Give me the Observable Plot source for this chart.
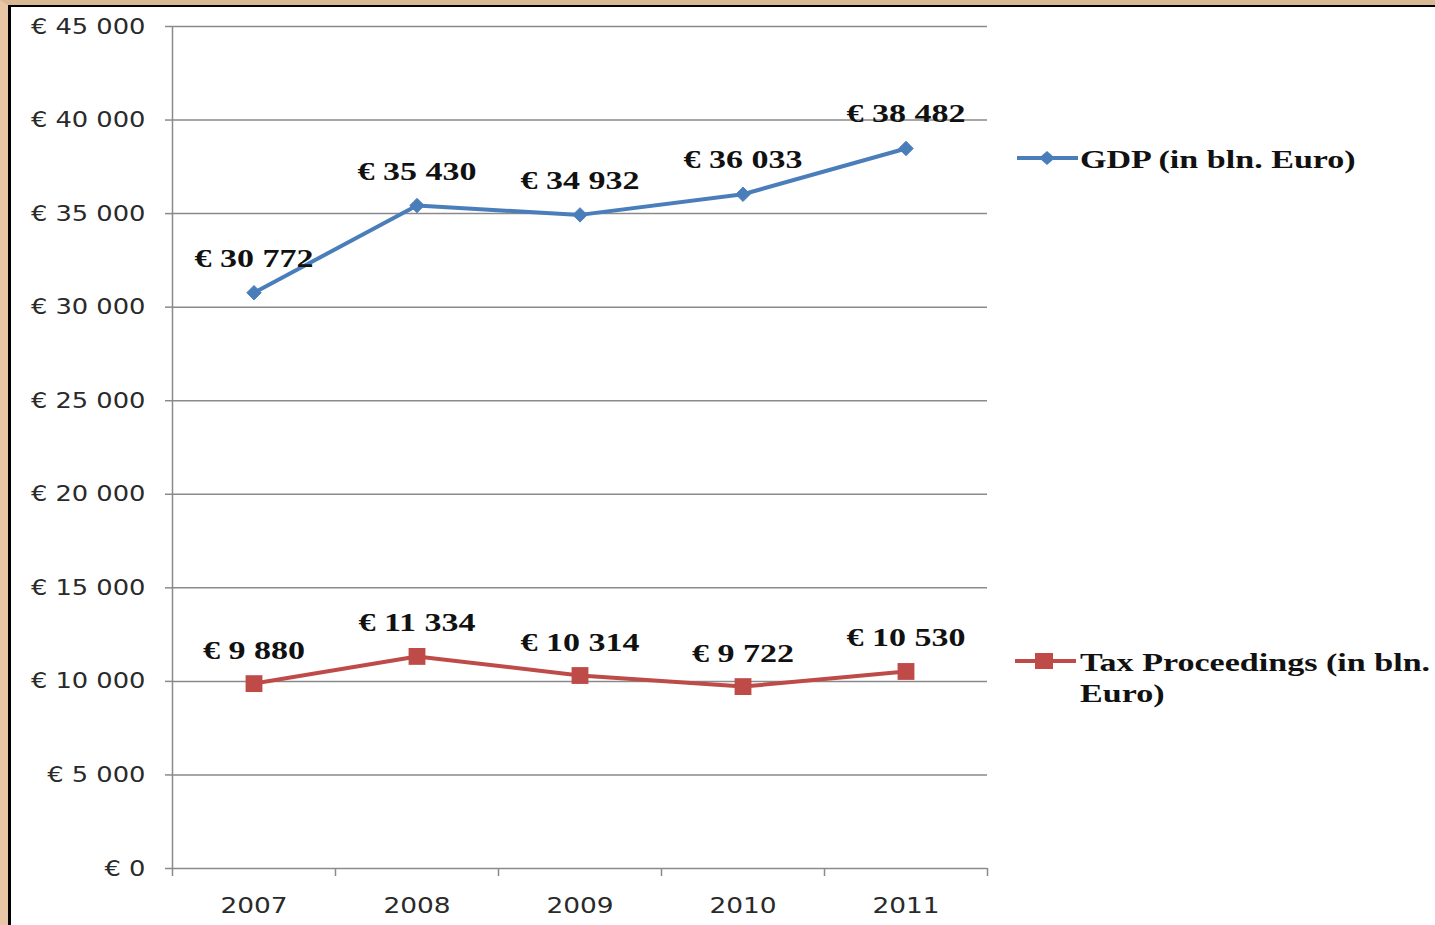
<!DOCTYPE html>
<html><head><meta charset="utf-8">
<script src="https://cdn.jsdelivr.net/npm/d3@7"></script>
<script src="https://cdn.jsdelivr.net/npm/@observablehq/plot@0.6"></script>
<style>
html,body{margin:0;padding:0;background:#fff;width:1435px;height:925px;overflow:hidden;position:relative}
#frameTan{position:absolute;left:0;top:0;width:1435px;height:925px;box-sizing:border-box;border-left:8px solid #e8c6a6;border-top:5px solid #d9b994;}
#frameBlack{position:absolute;left:8px;top:5px;width:1427px;height:920px;box-sizing:border-box;border-left:3px solid #000;border-top:2px solid #000;}
#chart{position:absolute;left:0;top:0}
.sw{position:absolute;}
.lt{position:absolute;font-family:"Liberation Serif",serif;font-weight:bold;font-size:26px;line-height:31px;color:#111;white-space:nowrap;transform:scaleX(1.31);transform-origin:0 0;}
</style></head>
<body>
<div id="frameTan"></div>
<div id="frameBlack"></div>
<div id="chart"></div>
<script>
const years = [2007, 2008, 2009, 2010, 2011];
const gdp = [30772, 35430, 34932, 36033, 38482];
const tax = [9880, 11334, 10314, 9722, 10530];
const seriesNames = ["GDP (in bln. Euro)", "Tax Proceedings (in bln. Euro)"];
const seriesColors = ["#4a7ebb", "#be4b48"];
const yTicks = [0, 5000, 10000, 15000, 20000, 25000, 30000, 35000, 40000, 45000];

const euro = v => "€ " + d3.format(",")(v).replace(/,/g, " ");
const gdpData = years.map((y, i) => ({year: y, value: gdp[i]}));
const taxData = years.map((y, i) => ({year: y, value: tax[i]}));
const bounds = years.map(y => y - 0.5).concat([years[years.length - 1] + 0.5]);

const grid = "#8a8a8a";
const chart = Plot.plot({
  width: 1435, height: 925,
  marginLeft: 172, marginRight: 448, marginTop: 26, marginBottom: 57,
  style: {background: "transparent", overflow: "visible"},
  x: {domain: [bounds[0], bounds[bounds.length - 1]], axis: null},
  y: {domain: [0, 45000], axis: null},
  marks: [
    Plot.gridY(yTicks, {stroke: grid, strokeOpacity: 1, strokeWidth: 1.5}),
    Plot.ruleX([bounds[0]], {y1: 0, y2: 45000, stroke: grid, strokeWidth: 1.5}),
    Plot.axisY(yTicks, {tickSize: 7, tickPadding: 20, stroke: grid, strokeWidth: 1.5, tickFormat: euro, label: null,
      fontFamily: "DejaVu Sans", fontSize: 22, fill: "#2a2a2a"}),
    Plot.axisX(bounds, {tickSize: 8, tickFormat: () => "", stroke: grid, strokeWidth: 1.5, label: null}),
    Plot.axisX(years, {tickSize: 0, tickPadding: 29, tickFormat: d => String(d), label: null,
      fontFamily: "DejaVu Sans", fontSize: 22, fill: "#2a2a2a"}),
    Plot.line(gdpData, {x: "year", y: "value", stroke: seriesColors[0], strokeWidth: 4}),
    Plot.dot(gdpData, {x: "year", y: "value", symbol: "diamond2", r: 6.5, fill: seriesColors[0], stroke: seriesColors[0], strokeWidth: 1}),
    Plot.line(taxData, {x: "year", y: "value", stroke: seriesColors[1], strokeWidth: 4}),
    Plot.dot(taxData, {x: "year", y: "value", symbol: "square", r: 9.5, fill: seriesColors[1], stroke: "none"}),
    Plot.text(gdpData, {x: "year", y: "value", text: d => euro(d.value), dy: -34, fontFamily: "Liberation Serif", fontWeight: "bold", fontSize: 25, fill: "#111"}),
    Plot.text(taxData, {x: "year", y: "value", text: d => euro(d.value), dy: -33, fontFamily: "Liberation Serif", fontWeight: "bold", fontSize: 25, fill: "#111"})
  ]
});
document.getElementById("chart").appendChild(chart);

// horizontally stretch texts around their anchor point (the reference is stretched)
const svgNS = "http://www.w3.org/2000/svg";
Array.from(chart.querySelectorAll("text")).forEach(t => {
  const ff = (t.closest("[font-family]") || t).getAttribute("font-family") || "";
  if (!t.textContent) return;
  let k = 1;
  if (ff.includes("Serif")) k = 1.36;
  else if (ff.includes("DejaVu")) k = t.textContent.startsWith("€") ? 1.17 : 1.2;
  if (k === 1) return;
  let ax = 0, ay = 0;
  const tr = t.getAttribute("transform") || "";
  const m = tr.match(/translate\(\s*([-\d.e]+)[ ,]+([-\d.e]+)\s*\)/);
  if (m) { ax = +m[1]; ay = +m[2]; }
  else { ax = parseFloat(t.getAttribute("x")) || 0; ay = parseFloat(t.getAttribute("y")) || 0; }
  const g = document.createElementNS(svgNS, "g");
  g.setAttribute("transform", `translate(${ax},${ay}) scale(${k},1) translate(${-ax},${-ay})`);
  t.parentNode.insertBefore(g, t);
  g.appendChild(t);
});

// legend
const legendItems = [
  {lines: ["GDP (in bln. Euro)"], color: seriesColors[0], symbol: "diamond", cx: 1047, cy: 158, x0: 1017, x1: 1078, textTop: 144.3},
  {lines: ["Tax Proceedings (in bln.", "Euro)"], color: seriesColors[1], symbol: "square", cx: 1044, cy: 661, x0: 1015, x1: 1076, textTop: 647.3}
];
legendItems.forEach(it => {
  const sw = d3.select("body").append("svg").attr("class", "sw")
    .style("left", (it.x0) + "px").style("top", (it.cy - 12) + "px")
    .attr("width", it.x1 - it.x0).attr("height", 24);
  sw.append("line").attr("x1", 0).attr("x2", it.x1 - it.x0).attr("y1", 12).attr("y2", 12)
    .attr("stroke", it.color).attr("stroke-width", 4);
  const cx = it.cx - it.x0;
  if (it.symbol === "diamond") {
    sw.append("path").attr("d", `M${cx},5 L${cx + 8},12 L${cx},19 L${cx - 8},12 Z`).attr("fill", it.color);
  } else {
    sw.append("rect").attr("x", cx - 9).attr("y", 4).attr("width", 18).attr("height", 16).attr("fill", it.color);
  }
  const t = d3.select("body").append("div").attr("class", "lt")
    .style("left", "1080px").style("top", it.textTop + "px");
  it.lines.forEach((l, i) => { if (i) t.append("br"); t.append("span").text(l); });
});
</script>
</body></html>
